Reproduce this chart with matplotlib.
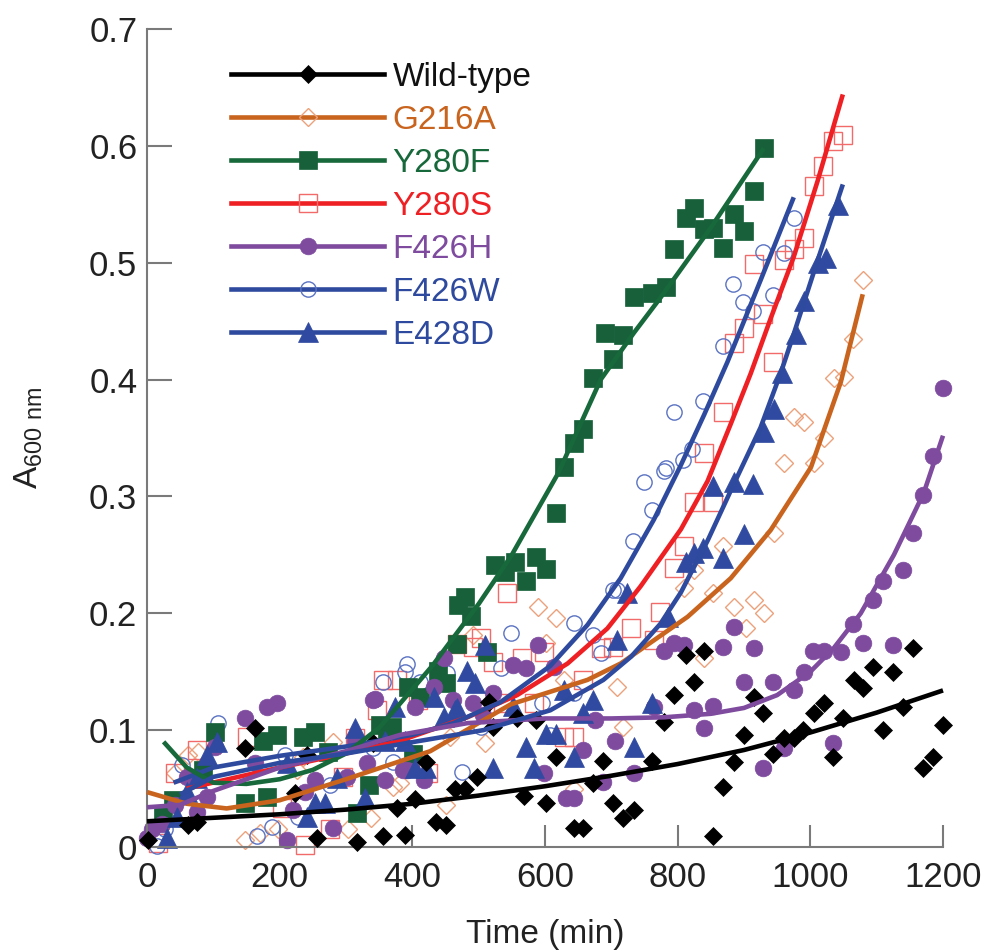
import matplotlib
matplotlib.use("Agg")
import matplotlib.pyplot as plt
from matplotlib.lines import Line2D

plt.rcParams['font.family'] = ['Liberation Sans', 'DejaVu Sans']
plt.rcParams['mathtext.fontset'] = 'custom'
plt.rcParams['mathtext.rm'] = 'Liberation Sans'

# ---------------- data ----------------
series_names = ["Wild-type", "G216A", "Y280F", "Y280S", "F426H", "F426W", "E428D"]

wt_x = [2, 62, 75, 148, 163, 223, 241, 257, 317, 341, 356, 377, 389, 404, 420, 435, 450, 465, 480, 498,
        515, 522, 558, 586, 568, 601, 616, 643, 658, 673, 688, 703, 718, 734, 762, 779, 794, 812, 839, 824,
        854, 869, 885, 900, 915, 928, 943, 960, 975, 989, 1005, 1020, 1034, 1049, 1066, 1079, 1094, 1109,
        1124, 1140, 1155, 1170, 1185, 1200]
wt_y = [0.006, 0.019, 0.021, 0.085, 0.102, 0.046, 0.079, 0.008, 0.004, 0.089, 0.009, 0.033, 0.010, 0.041,
        0.073, 0.021, 0.019, 0.050, 0.050, 0.060, 0.124, 0.103, 0.110, 0.109, 0.044, 0.038, 0.077, 0.016,
        0.016, 0.055, 0.074, 0.038, 0.025, 0.032, 0.074, 0.107, 0.130, 0.164, 0.168, 0.141, 0.009, 0.051,
        0.073, 0.096, 0.128, 0.115, 0.080, 0.093, 0.093, 0.100, 0.115, 0.123, 0.077, 0.110, 0.143, 0.136,
        0.154, 0.100, 0.150, 0.120, 0.170, 0.068, 0.077, 0.104]
wt_fit_x = [0, 100, 200, 300, 400, 500, 600, 700, 800, 900, 1000, 1100, 1200]
wt_fit_y = [0.022, 0.025, 0.028, 0.032, 0.037, 0.044, 0.052, 0.061, 0.071, 0.083, 0.098, 0.115, 0.134]

g216a_x = [42, 62, 77, 148, 171, 198, 226, 235, 281, 303, 337, 371, 382, 450, 457, 510, 491, 589, 616,
           601, 628, 643, 709, 718, 809, 824, 839, 854, 869, 885, 903, 915, 930, 945, 960, 1005, 975, 990,
           1020, 1035, 1050, 1064, 1079]
g216a_y = [0.063, 0.079, 0.081, 0.006, 0.012, 0.015, 0.066, 0.077, 0.090, 0.015, 0.025, 0.051, 0.055,
           0.036, 0.094, 0.089, 0.181, 0.205, 0.196, 0.175, 0.143, 0.050, 0.137, 0.103, 0.222, 0.237,
           0.162, 0.217, 0.258, 0.205, 0.187, 0.211, 0.200, 0.269, 0.329, 0.329, 0.368, 0.364, 0.350,
           0.401, 0.402, 0.435, 0.485]
g216a_fit_x = [0, 60, 120, 200, 300, 427, 548, 664, 714, 815, 880, 940, 1001, 1046, 1079]
g216a_fit_y = [0.047, 0.037, 0.033, 0.040, 0.058, 0.082, 0.122, 0.143, 0.157, 0.197, 0.230, 0.271,
               0.325, 0.398, 0.473]

y280f_x = [24, 39, 85, 103, 148, 181, 175, 196, 235, 254, 273, 317, 334, 352, 362, 370, 393, 401, 412,
           439, 450, 468, 469, 480, 488, 513, 525, 540, 555, 571, 586, 601, 616, 628, 643, 658, 673, 691,
           703, 718, 734, 762, 782, 794, 812, 824, 839, 854, 869, 885, 900, 915, 930]
y280f_y = [0.027, 0.040, 0.066, 0.098, 0.038, 0.043, 0.091, 0.096, 0.094, 0.098, 0.081, 0.029, 0.053,
           0.104, 0.100, 0.103, 0.137, 0.080, 0.128, 0.151, 0.140, 0.174, 0.207, 0.214, 0.198, 0.167,
           0.241, 0.235, 0.244, 0.228, 0.248, 0.238, 0.286, 0.325, 0.346, 0.358, 0.401, 0.440, 0.418,
           0.438, 0.471, 0.474, 0.479, 0.512, 0.538, 0.547, 0.529, 0.530, 0.513, 0.542, 0.527, 0.561,
           0.598]
y280f_fit_x = [25, 60, 100, 150, 200, 250, 300, 350, 400, 430, 500, 550, 620, 684, 734, 774, 850, 930]
y280f_fit_y = [0.090, 0.068, 0.055, 0.054, 0.058, 0.066, 0.080, 0.102, 0.135, 0.155, 0.208, 0.250,
               0.320, 0.400, 0.440, 0.470, 0.530, 0.598]

y280s_x = [17, 42, 75, 151, 204, 238, 276, 296, 314, 347, 356, 377, 409, 423, 468, 491, 503, 521, 537,
           543, 566, 583, 598, 628, 643, 658, 684, 703, 729, 764, 774, 794, 809, 824, 854, 839, 868, 885,
           900, 928, 943, 915, 960, 975, 990, 1005, 1019, 1034, 1049]
y280s_y = [0.003, 0.063, 0.083, 0.094, 0.033, 0.002, 0.015, 0.060, 0.093, 0.117, 0.143, 0.143, 0.126,
           0.063, 0.174, 0.171, 0.179, 0.158, 0.123, 0.217, 0.162, 0.123, 0.167, 0.094, 0.094, 0.143,
           0.170, 0.171, 0.187, 0.177, 0.201, 0.239, 0.258, 0.295, 0.295, 0.337, 0.372, 0.431, 0.444,
           0.456, 0.415, 0.499, 0.502, 0.512, 0.521, 0.566, 0.583, 0.604, 0.609]
y280s_fit_x = [60, 200, 300, 382, 483, 558, 634, 694, 744, 805, 845, 880, 910, 940, 975, 1011, 1049]
y280s_fit_y = [0.050, 0.068, 0.080, 0.091, 0.111, 0.130, 0.157, 0.187, 0.223, 0.272, 0.313, 0.362,
               0.405, 0.452, 0.505, 0.570, 0.644]

f426h_x = [0, 8, 23, 42, 60, 75, 91, 103, 148, 181, 196, 163, 211, 220, 238, 254, 281, 302, 314, 332,
           341, 344, 359, 386, 392, 404, 417, 432, 447, 462, 492, 507, 522, 552, 571, 589, 613, 631, 643,
           598, 658, 676, 688, 706, 734, 764, 779, 794, 809, 824, 839, 854, 869, 885, 900, 915, 928, 943,
           960, 975, 990, 1004, 1020, 1034, 1046, 1064, 1079, 1094, 1109, 1124, 1140, 1155, 1170, 1185,
           1200]
f426h_y = [0.008, 0.015, 0.020, 0.036, 0.060, 0.030, 0.043, 0.086, 0.110, 0.120, 0.123, 0.072, 0.006,
           0.032, 0.047, 0.057, 0.016, 0.060, 0.091, 0.072, 0.126, 0.127, 0.057, 0.066, 0.066, 0.120,
           0.057, 0.137, 0.162, 0.126, 0.123, 0.113, 0.132, 0.156, 0.153, 0.173, 0.154, 0.042, 0.042,
           0.063, 0.083, 0.109, 0.056, 0.091, 0.063, 0.120, 0.168, 0.175, 0.173, 0.117, 0.102, 0.121,
           0.171, 0.188, 0.141, 0.170, 0.068, 0.141, 0.085, 0.134, 0.150, 0.168, 0.168, 0.089, 0.167,
           0.191, 0.175, 0.211, 0.228, 0.173, 0.237, 0.269, 0.301, 0.335, 0.393]
f426h_fit_x = [0, 50, 95, 200, 300, 382, 483, 600, 700, 780, 850, 900, 950, 1000, 1035, 1076, 1126,
               1171, 1200]
f426h_fit_y = [0.034, 0.036, 0.047, 0.068, 0.082, 0.096, 0.106, 0.110, 0.110, 0.111, 0.114, 0.119,
               0.130, 0.150, 0.170, 0.200, 0.250, 0.303, 0.352]

f426w_x = [15, 27, 53, 107, 166, 189, 208, 228, 276, 340, 356, 371, 389, 392, 412, 453, 475, 503, 533,
           548, 596, 608, 643, 643, 673, 684, 703, 709, 732, 749, 762, 779, 782, 794, 808, 822, 838, 868,
           883, 898, 913, 928, 943, 960, 975]
f426w_y = [0.001, 0.015, 0.070, 0.106, 0.009, 0.017, 0.079, 0.026, 0.053, 0.085, 0.141, 0.073, 0.150,
           0.157, 0.141, 0.149, 0.064, 0.103, 0.153, 0.183, 0.123, 0.096, 0.192, 0.132, 0.181, 0.166,
           0.220, 0.220, 0.262, 0.312, 0.288, 0.322, 0.324, 0.372, 0.331, 0.341, 0.382, 0.429, 0.482,
           0.466, 0.459, 0.509, 0.472, 0.508, 0.538]
f426w_fit_x = [40, 100, 200, 300, 400, 462, 533, 608, 664, 714, 764, 805, 840, 875, 925, 975]
f426w_fit_y = [0.055, 0.068, 0.078, 0.086, 0.096, 0.106, 0.124, 0.155, 0.190, 0.230, 0.280, 0.327,
               0.370, 0.415, 0.485, 0.556]

e428d_x = [30, 45, 60, 75, 91, 106, 211, 241, 254, 269, 287, 314, 329, 359, 374, 389, 404, 420, 432,
           447, 465, 468, 483, 495, 510, 522, 552, 571, 583, 601, 616, 628, 643, 657, 673, 709, 724, 734,
           762, 785, 812, 824, 838, 854, 869, 885, 900, 913, 930, 945, 958, 978, 990, 1011, 1023, 1041]
e428d_y = [0.008, 0.026, 0.047, 0.059, 0.079, 0.090, 0.072, 0.026, 0.038, 0.038, 0.059, 0.102, 0.042,
           0.091, 0.120, 0.091, 0.068, 0.068, 0.128, 0.111, 0.117, 0.119, 0.151, 0.140, 0.173, 0.068,
           0.121, 0.086, 0.068, 0.097, 0.097, 0.134, 0.077, 0.115, 0.126, 0.177, 0.217, 0.086, 0.123,
           0.197, 0.244, 0.252, 0.256, 0.309, 0.247, 0.312, 0.268, 0.311, 0.355, 0.375, 0.406, 0.439,
           0.467, 0.500, 0.504, 0.549]
e428d_fit_x = [50, 100, 200, 300, 382, 507, 608, 688, 730, 774, 805, 845, 885, 925, 955, 975, 1011, 1049]
e428d_fit_y = [0.045, 0.060, 0.072, 0.080, 0.088, 0.100, 0.117, 0.143, 0.163, 0.191, 0.218, 0.262,
               0.311, 0.359, 0.405, 0.439, 0.502, 0.567]

x_ticks = [0, 200, 400, 600, 800, 1000, 1200]
y_ticks = [0, 0.1, 0.2, 0.3, 0.4, 0.5, 0.6, 0.7]
y_tick_labels = ["0", "0.1", "0.2", "0.3", "0.4", "0.5", "0.6", "0.7"]

# ---------------- styles ----------------
styles = {
    "Wild-type": dict(line="#000000", marker="D", ms=8.7, mfc="#000000", mec="#000000", mew=0.5, text="#111111"),
    "G216A": dict(line="#C8641E", marker="D", ms=8.7, mfc="none", mec="#EBA27C", mew=1.0, text="#C8641E"),
    "Y280F": dict(line="#17683A", marker="s", ms=13, mfc="#17603A", mec="#17603A", mew=0.5, text="#17683A"),
    "Y280S": dict(line="#EE2024", marker="s", ms=12.5, mfc="none", mec="#F26A6A", mew=1.0, text="#EE2024"),
    "F426H": dict(line="#7E4B9F", marker="o", ms=12, mfc="#7E4B9F", mec="#7E4B9F", mew=0.5, text="#7E4B9F"),
    "F426W": dict(line="#2E4A9E", marker="o", ms=11, mfc="none", mec="#5A72C2", mew=1.0, text="#2E4A9E"),
    "E428D": dict(line="#2E4A9E", marker="^", ms=14, mfc="#2F4AA0", mec="#2F4AA0", mew=0.5, text="#2E4A9E"),
}

data = {
    "Wild-type": (wt_x, wt_y, wt_fit_x, wt_fit_y),
    "G216A": (g216a_x, g216a_y, g216a_fit_x, g216a_fit_y),
    "Y280F": (y280f_x, y280f_y, y280f_fit_x, y280f_fit_y),
    "Y280S": (y280s_x, y280s_y, y280s_fit_x, y280s_fit_y),
    "F426H": (f426h_x, f426h_y, f426h_fit_x, f426h_fit_y),
    "F426W": (f426w_x, f426w_y, f426w_fit_x, f426w_fit_y),
    "E428D": (e428d_x, e428d_y, e428d_fit_x, e428d_fit_y),
}

fig = plt.figure(figsize=(9.84, 9.52), dpi=100)
ax = fig.add_axes([147 / 984, 1 - 847 / 952, (943 - 147) / 984, (847 - 29) / 952])

draw_order = ["G216A", "Y280S", "F426W", "Y280F", "F426H", "E428D", "Wild-type"]
for z, name in enumerate(draw_order):
    xs, ys, fx, fy = data[name]
    st = styles[name]
    ax.plot(xs, ys, linestyle="none", marker=st["marker"], ms=st["ms"], mfc=st["mfc"],
            mec=st["mec"], mew=st["mew"], clip_on=False, zorder=2 + z * 0.1)
for z, name in enumerate(draw_order):
    xs, ys, fx, fy = data[name]
    st = styles[name]
    ax.plot(fx, fy, color=st["line"], lw=3.3, solid_capstyle="butt", solid_joinstyle="round",
            zorder=4 + z * 0.1, clip_on=False)

ax.set_xlim(0, 1200)
ax.set_ylim(0, 0.7)
ax.set_xticks(x_ticks)
ax.set_xticklabels([str(v) for v in x_ticks])
ax.set_yticks(y_ticks)
ax.set_yticklabels(y_tick_labels)

for s in ["top", "right"]:
    ax.spines[s].set_visible(False)
for s in ["left", "bottom"]:
    ax.spines[s].set_color("#7a7a7a")
    ax.spines[s].set_linewidth(1.5)
ax.tick_params(axis="y", direction="in", length=18, width=1.5, color="#7a7a7a", labelsize=25,
               pad=7, labelcolor="#222222")
ax.tick_params(axis="x", direction="in", length=16, width=1.5, color="#7a7a7a", labelsize=25,
               pad=10, labelcolor="#222222")

ax.set_xlabel("Time (min)", fontsize=24, color="#222222", labelpad=18)
ax.set_ylabel(r"A$_{\mathregular{600\ nm}}$", fontsize=24, color="#222222", labelpad=32)

handles = []
for name in series_names:
    st = styles[name]
    handles.append(Line2D([0], [0], color=st["line"], lw=3.3, marker=st["marker"], ms=st["ms"],
                          mfc=st["mfc"], mec=st["mec"], mew=st["mew"]))
leg = ax.legend(handles, series_names, loc="upper left",
                bbox_to_anchor=(231 / 984, 1 - 62 / 952), bbox_transform=fig.transFigure,
                frameon=False, fontsize=24, handlelength=4.6, handletextpad=0.25,
                labelspacing=0.36, borderpad=0, borderaxespad=0, numpoints=1)
for txt, name in zip(leg.get_texts(), series_names):
    txt.set_color(styles[name]["text"])

fig.savefig("out.png", dpi=100)
